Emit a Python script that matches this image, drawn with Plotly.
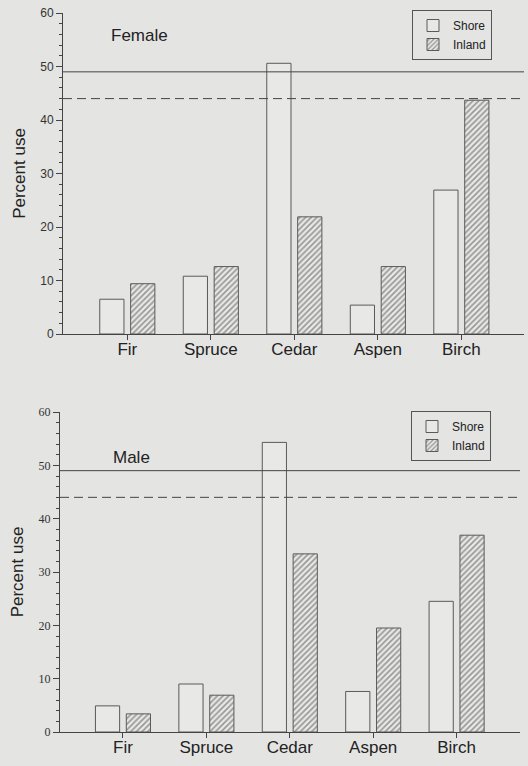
import plotly.graph_objects as go

categories = ["Fir", "Spruce", "Cedar", "Aspen", "Birch"]
female_shore = [6.5, 10.8, 50.6, 5.4, 26.9]
female_inland = [9.4, 12.6, 21.9, 12.6, 43.7]
male_shore = [4.9, 9.0, 54.3, 7.6, 24.5]
male_inland = [3.4, 6.9, 33.4, 19.5, 36.9]
ref_solid = 49.0
ref_dashed = 44.0
y_ticks = [0, 10, 20, 30, 40, 50, 60]

BG = "#e4e4e2"
EDGE = "#5a5a5a"
W, H = 528, 766

fig = go.Figure()

def add_pair(shore, inland, xa, ya, legend):
    fig.add_trace(go.Bar(
        x=categories, y=shore, name="Shore", xaxis=xa, yaxis=ya, legend=legend,
        width=0.29, offset=-0.33,
        marker=dict(color="#e8e8e6", line=dict(color=EDGE, width=1)),
    ))
    fig.add_trace(go.Bar(
        x=categories, y=inland, name="Inland", xaxis=xa, yaxis=ya, legend=legend,
        width=0.29, offset=0.04,
        marker=dict(color="#e8e8e6", line=dict(color=EDGE, width=1),
                    pattern=dict(shape="/", fgcolor="#444444", bgcolor="#e8e8e6",
                                 size=4, solidity=0.4)),
    ))

add_pair(female_shore, female_inland, "x", "y", "legend")
add_pair(male_shore, male_inland, "x2", "y2", "legend2")

def px_x(p):
    return p / W

def px_y(p):
    return 1 - p / H

xcommon = dict(showline=True, linecolor="#444", linewidth=1, ticks="outside",
               ticklen=5, tickcolor="#444", showgrid=False, zeroline=False,
               automargin=False, ticklabelstandoff=-5,
               tickfont=dict(family="Liberation Sans, Arial", size=17, color="#222"))
ycommon = dict(showline=True, linecolor="#444", linewidth=1, ticks="outside",
               ticklen=6, tickcolor="#444", showgrid=False, zeroline=False,
               automargin=False,
               range=[0, 60], tickvals=y_ticks,
               minor=dict(dtick=2, ticklen=3, ticks="outside", tickcolor="#444"),
               title=dict(text="Percent use", standoff=10,
                          font=dict(family="Liberation Sans, Arial", size=17, color="#222")))

fig.update_layout(
    width=W, height=H,
    margin=dict(l=0, r=0, t=0, b=0, autoexpand=False),
    paper_bgcolor=BG, plot_bgcolor=BG,
    barmode="overlay",
    xaxis=dict(**xcommon, domain=[px_x(63), px_x(524)], range=[-0.77, 4.75],
               anchor="y"),
    yaxis=dict(**ycommon, domain=[px_y(334), px_y(13)], anchor="x",
               tickfont=dict(family="Liberation Sans, Arial", size=12, color="#333")),
    xaxis2=dict(**xcommon, domain=[px_x(60), px_x(520)], range=[-0.755, 4.76],
                anchor="y2"),
    yaxis2=dict(**ycommon, domain=[px_y(732), px_y(412)], anchor="x2",
                tickfont=dict(family="Liberation Serif, Times New Roman", size=12, color="#333")),
    legend=dict(x=px_x(412), y=px_y(10), xanchor="left", yanchor="top",
                bgcolor=BG, bordercolor="#555", borderwidth=1,
                font=dict(family="Liberation Sans, Arial", size=12, color="#222"),
                itemwidth=30, tracegroupgap=0),
    legend2=dict(x=px_x(411), y=px_y(411), xanchor="left", yanchor="top",
                 bgcolor=BG, bordercolor="#555", borderwidth=1,
                 font=dict(family="Liberation Sans, Arial", size=12, color="#222"),
                 itemwidth=30, tracegroupgap=0),
    font=dict(family="Liberation Sans, Arial", color="#222"),
)

for ya, xd in (("y", "x domain"), ("y2", "x2 domain")):
    fig.add_shape(type="line", xref=xd, yref=ya, x0=0, x1=1, y0=ref_solid, y1=ref_solid,
                  line=dict(color="#444", width=1))
    fig.add_shape(type="line", xref=xd, yref=ya, x0=0, x1=1, y0=ref_dashed, y1=ref_dashed,
                  line=dict(color="#444", width=1, dash="9px,5px"))

fig.add_annotation(text="Female", xref="x", yref="y", x=0.15, y=55.8, showarrow=False,
                   font=dict(family="Liberation Sans, Arial", size=17, color="#222"))
fig.add_annotation(text="Male", xref="x2", yref="y2", x=0.1, y=51.5, showarrow=False,
                   font=dict(family="Liberation Sans, Arial", size=17, color="#222"))

fig.write_html("out.html", config={"displayModeBar": False},
               post_script="document.body.style.margin='0';document.body.style.background='%s';" % BG)
